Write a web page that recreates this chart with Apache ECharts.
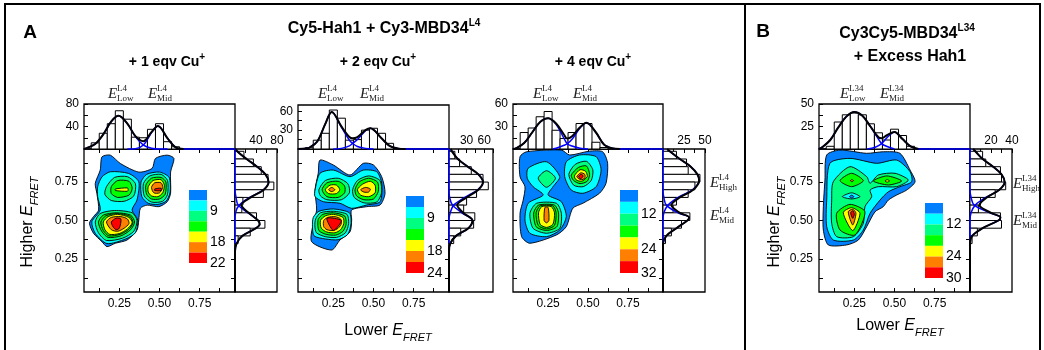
<!DOCTYPE html>
<html>
<head>
<meta charset="utf-8">
<script src="https://cdn.jsdelivr.net/npm/echarts@6/dist/echarts.min.js"></script>
<style>
html, body { margin: 0; padding: 0; background: #fff; }
#chart { width: 1044px; height: 350px; }
</style>
</head>
<body>
<div id="chart"></div>
<script>
// contour fill colours, outermost level first
const levelColors = ['#0080ff', '#00ffff', '#00ff80', '#00ff00', '#ffff00', '#ff8000', '#ff0000'];

// tick positions on the E_FRET axes
const eTicks = [0.125, 0.25, 0.375, 0.5, 0.625, 0.75, 0.875];
const eLabels = [0.25, 0.5, 0.75];

// histogram bins (centres)
const topBins = [0.1, 0.15, 0.2, 0.25, 0.3, 0.35, 0.4, 0.45, 0.5, 0.55, 0.6];
const rightBins = [0.925, 0.875, 0.825, 0.775, 0.725, 0.675, 0.625, 0.575, 0.525, 0.475, 0.425, 0.375];

// ---- panel A, +1 eqv ----
const a1TopCounts = [11, 28, 45, 68, 53, 21, 20, 35, 45, 13, 4];
const a1TopFit = [[0.03,0],[0.05,2],[0.1,9],[0.15,26],[0.2,49],[0.245,59],[0.3,45],[0.35,23],[0.4,14],[0.45,30],[0.49,41],[0.55,19],[0.6,3],[0.65,0]];
const a1TopLow = [[0.03,0],[0.05,2],[0.1,9],[0.15,26],[0.2,49],[0.245,59],[0.3,45],[0.35,22],[0.4,7],[0.45,1.5],[0.5,0],[0.55,0]];
const a1TopMid = [[0.3,0],[0.35,0.6],[0.4,7],[0.45,29],[0.49,41],[0.55,19],[0.6,3],[0.65,0],[0.97,0]];
const a1RightCounts = [17, 35, 50, 63, 74, 54, 15, 13, 41, 57, 29, 6];
const a1RightFit = [[2,0.965],[4,0.95],[22,0.9],[42,0.85],[58,0.8],[64,0.75],[55,0.7],[30,0.65],[12,0.6],[26,0.55],[44,0.5],[47,0.475],[40,0.45],[14,0.4],[3,0.35],[0,0.3],[0,0.035]];
const a1RightHigh = [[2,0.965],[4,0.95],[22,0.9],[42,0.85],[58,0.8],[64,0.75],[54,0.7],[28,0.65],[8,0.6],[1,0.55],[0,0.5],[0,0.35]];
const a1RightMid = [[0,0.965],[0,0.7],[2,0.65],[6,0.6],[25,0.55],[44,0.5],[47,0.475],[40,0.45],[14,0.4],[3,0.35],[0,0.3]];
const a1LegendLabels = ['9', '18', '22'];
const a1Contours = [
  [0, [[0.142,0.914],[0.194,0.925],[0.256,0.871],[0.371,0.815],[0.454,0.839],[0.475,0.904],[0.548,0.925],[0.59,0.904],[0.569,0.815],[0.569,0.677],[0.548,0.622],[0.496,0.59],[0.423,0.6],[0.381,0.579],[0.371,0.503],[0.36,0.438],[0.298,0.373],[0.225,0.352],[0.173,0.33],[0.142,0.362],[0.089,0.417],[0.064,0.482],[0.089,0.525],[0.121,0.568],[0.11,0.677],[0.1,0.741],[0.131,0.828]]],
  [1, [[0.194,0.817],[0.308,0.806],[0.371,0.752],[0.36,0.633],[0.329,0.568],[0.365,0.503],[0.35,0.42],[0.29,0.38],[0.173,0.35],[0.1,0.417],[0.079,0.492],[0.131,0.568],[0.115,0.655],[0.115,0.72],[0.142,0.784]]],
  [1, [[0.385,0.75],[0.42,0.8],[0.5,0.815],[0.56,0.78],[0.565,0.68],[0.54,0.625],[0.49,0.605],[0.43,0.612],[0.39,0.655]]],
  [2, [[0.17,0.72],[0.22,0.78],[0.3,0.785],[0.35,0.74],[0.34,0.66],[0.28,0.625],[0.2,0.63],[0.16,0.67]]],
  [3, [[0.2,0.72],[0.24,0.76],[0.31,0.755],[0.33,0.71],[0.31,0.665],[0.24,0.65],[0.2,0.675]]],
  [4, [[0.225,0.705],[0.3,0.712],[0.305,0.7],[0.3,0.69],[0.225,0.695]]],
  [2, [[0.4,0.74],[0.44,0.79],[0.51,0.8],[0.55,0.76],[0.55,0.67],[0.52,0.625],[0.45,0.62],[0.405,0.66]]],
  [3, [[0.415,0.73],[0.45,0.775],[0.51,0.78],[0.54,0.75],[0.535,0.67],[0.5,0.64],[0.45,0.64],[0.42,0.67]]],
  [4, [[0.43,0.72],[0.46,0.76],[0.51,0.765],[0.53,0.73],[0.52,0.68],[0.49,0.655],[0.45,0.66],[0.43,0.685]]],
  [5, [[0.45,0.715],[0.47,0.745],[0.51,0.745],[0.52,0.715],[0.5,0.68],[0.465,0.68]]],
  [6, [[0.47,0.705],[0.51,0.71],[0.51,0.695],[0.47,0.695]]],
  [2, [[0.1,0.49],[0.13,0.545],[0.22,0.565],[0.33,0.55],[0.36,0.5],[0.34,0.43],[0.27,0.385],[0.17,0.37],[0.12,0.42]]],
  [3, [[0.12,0.49],[0.15,0.535],[0.23,0.55],[0.32,0.535],[0.345,0.49],[0.32,0.44],[0.26,0.4],[0.18,0.39],[0.14,0.43]]],
  [3, [[0.135,0.49],[0.165,0.53],[0.235,0.545],[0.315,0.528],[0.335,0.487],[0.31,0.443],[0.255,0.41],[0.185,0.4],[0.15,0.435]]],
  [4, [[0.15,0.49],[0.18,0.525],[0.24,0.54],[0.31,0.52],[0.33,0.485],[0.3,0.445],[0.25,0.415],[0.19,0.41],[0.16,0.44]]],
  [5, [[0.17,0.49],[0.2,0.52],[0.26,0.525],[0.3,0.51],[0.31,0.48],[0.28,0.45],[0.24,0.43],[0.2,0.44]]],
  [6, [[0.2,0.49],[0.23,0.515],[0.26,0.51],[0.25,0.45],[0.23,0.44],[0.21,0.46]]]
];

// ---- panel A, +2 eqv ----
const a2TopCounts = [2, 14, 25, 62, 49, 14, 15, 30, 33, 25, 9];
const a2TopFit = [[0.03,0],[0.08,1],[0.1,2],[0.15,12],[0.2,40],[0.24,59],[0.3,36],[0.35,19],[0.37,17],[0.4,19],[0.45,30],[0.48,33],[0.55,17],[0.6,5],[0.65,1],[0.7,0]];
const a2TopLow = [[0.03,0],[0.08,1],[0.1,2],[0.15,12],[0.2,40],[0.24,59],[0.3,35],[0.35,14],[0.37,9],[0.4,4],[0.45,1],[0.5,0]];
const a2TopMid = [[0.25,0],[0.3,1],[0.35,5],[0.37,9],[0.4,15],[0.45,29],[0.48,33],[0.55,17],[0.6,5],[0.65,1],[0.7,0],[0.97,0]];
const a2RightCounts = [10, 18, 38, 58, 67, 47, 30, 25, 44, 42, 20, 8];
const a2RightFit = [[3,0.965],[5,0.95],[15,0.9],[32,0.85],[50,0.8],[58,0.75],[50,0.7],[30,0.65],[14,0.6],[24,0.55],[40,0.5],[33,0.45],[12,0.4],[2,0.35],[0,0.3],[0,0.035]];
const a2RightHigh = [[3,0.965],[5,0.95],[15,0.9],[32,0.85],[50,0.8],[58,0.75],[49,0.7],[27,0.65],[8,0.6],[2,0.55],[0,0.5],[0,0.35]];
const a2RightMid = [[0,0.965],[0,0.7],[1,0.65],[6,0.6],[22,0.55],[40,0.5],[33,0.45],[12,0.4],[2,0.35],[0,0.3]];
const a2LegendLabels = ['9', '18', '24'];
const a2Contours = [
  [0, [[0.167,0.893],[0.25,0.861],[0.354,0.796],[0.437,0.872],[0.5,0.861],[0.551,0.785],[0.572,0.677],[0.541,0.601],[0.458,0.59],[0.364,0.568],[0.364,0.503],[0.354,0.427],[0.291,0.373],[0.24,0.308],[0.115,0.362],[0.125,0.482],[0.146,0.568],[0.136,0.698],[0.156,0.807]]],
  [1, [[0.136,0.698],[0.167,0.807],[0.25,0.828],[0.354,0.785],[0.437,0.828],[0.52,0.817],[0.551,0.742],[0.541,0.622],[0.458,0.601],[0.364,0.579],[0.291,0.612],[0.188,0.622],[0.136,0.655]]],
  [1, [[0.125,0.52],[0.16,0.56],[0.25,0.575],[0.35,0.55],[0.36,0.48],[0.34,0.41],[0.28,0.375],[0.2,0.38],[0.13,0.4],[0.12,0.46]]],
  [2, [[0.16,0.7],[0.2,0.76],[0.28,0.775],[0.34,0.74],[0.35,0.68],[0.3,0.635],[0.21,0.635],[0.17,0.66]]],
  [3, [[0.18,0.7],[0.21,0.745],[0.28,0.755],[0.32,0.725],[0.32,0.68],[0.28,0.65],[0.21,0.655]]],
  [4, [[0.2,0.7],[0.23,0.73],[0.27,0.73],[0.29,0.7],[0.27,0.675],[0.22,0.675]]],
  [5, [[0.22,0.7],[0.24,0.715],[0.26,0.7],[0.24,0.688]]],
  [2, [[0.37,0.7],[0.4,0.76],[0.47,0.79],[0.54,0.76],[0.55,0.68],[0.52,0.62],[0.44,0.615],[0.38,0.65]]],
  [3, [[0.385,0.7],[0.41,0.75],[0.47,0.775],[0.525,0.75],[0.53,0.69],[0.5,0.64],[0.44,0.635],[0.395,0.66]]],
  [4, [[0.4,0.7],[0.43,0.735],[0.48,0.755],[0.51,0.73],[0.51,0.68],[0.47,0.655],[0.42,0.665]]],
  [5, [[0.42,0.7],[0.45,0.715],[0.48,0.705],[0.47,0.685],[0.44,0.685]]],
  [2, [[0.14,0.51],[0.17,0.55],[0.25,0.56],[0.335,0.54],[0.345,0.48],[0.325,0.42],[0.27,0.39],[0.2,0.395],[0.145,0.42],[0.135,0.465]]],
  [3, [[0.155,0.505],[0.185,0.54],[0.25,0.55],[0.32,0.53],[0.33,0.48],[0.31,0.43],[0.265,0.405],[0.205,0.41],[0.16,0.435]]],
  [4, [[0.17,0.5],[0.2,0.53],[0.25,0.54],[0.31,0.52],[0.315,0.48],[0.295,0.44],[0.26,0.42],[0.21,0.425],[0.175,0.45]]],
  [5, [[0.19,0.5],[0.215,0.52],[0.26,0.525],[0.295,0.51],[0.3,0.48],[0.28,0.45],[0.25,0.435],[0.21,0.44],[0.19,0.46]]],
  [6, [[0.21,0.515],[0.3,0.5],[0.25,0.435]]]
];

// ---- panel A, +4 eqv ----
const a3TopCounts = [22, 28, 43, 50, 25, 14, 22, 34, 34, 9, 2];
const a3TopFit = [[0.03,0],[0.05,1],[0.1,8],[0.15,22],[0.2,36],[0.25,41],[0.3,34],[0.35,19],[0.37,14],[0.4,17],[0.45,29],[0.49,35],[0.55,22],[0.6,6],[0.65,1],[0.7,0]];
const a3TopLow = [[0.03,0],[0.05,1],[0.1,8],[0.15,22],[0.2,36],[0.25,41],[0.3,33],[0.35,14],[0.37,7],[0.4,4],[0.45,1],[0.5,0]];
const a3TopMid = [[0.28,0],[0.3,1],[0.35,5],[0.37,7],[0.4,13],[0.45,28],[0.49,35],[0.55,22],[0.6,6],[0.65,1],[0.7,0],[0.97,0]];
const a3RightCounts = [16, 28, 30, 44, 38, 30, 16, 12, 32, 22, 10, 3];
const a3RightFit = [[5,0.965],[8,0.95],[20,0.9],[33,0.85],[41,0.8],[43,0.76],[36,0.7],[20,0.65],[10,0.6],[20,0.55],[31,0.52],[29,0.5],[16,0.45],[4,0.4],[0,0.35],[0,0.035]];
const a3RightHigh = [[5,0.965],[8,0.95],[20,0.9],[33,0.85],[41,0.8],[43,0.76],[35,0.7],[18,0.65],[6,0.6],[1,0.55],[0,0.5],[0,0.35]];
const a3RightMid = [[0,0.965],[0,0.7],[1,0.65],[4,0.6],[18,0.55],[31,0.52],[29,0.5],[16,0.45],[4,0.4],[0,0.35]];
const a3LegendLabels = ['12', '24', '32'];
const a3Contours = [
  [0, [[0.074,0.915],[0.115,0.947],[0.333,0.958],[0.385,0.926],[0.509,0.951],[0.592,0.947],[0.623,0.872],[0.613,0.742],[0.572,0.677],[0.468,0.612],[0.405,0.58],[0.364,0.46],[0.302,0.406],[0.136,0.352],[0.084,0.395],[0.074,0.547],[0.094,0.633],[0.105,0.72],[0.074,0.785]]],
  [1, [[0.125,0.84],[0.24,0.882],[0.323,0.785],[0.281,0.72],[0.25,0.666],[0.333,0.622],[0.364,0.525],[0.323,0.438],[0.24,0.395],[0.136,0.417],[0.105,0.503],[0.125,0.612],[0.219,0.666],[0.156,0.72],[0.119,0.775]]],
  [1, [[0.364,0.882],[0.447,0.926],[0.551,0.915],[0.582,0.829],[0.551,0.72],[0.468,0.677],[0.395,0.698],[0.354,0.785]]],
  [2, [[0.188,0.775],[0.24,0.824],[0.296,0.775],[0.24,0.716]]],
  [2, [[0.136,0.547],[0.178,0.612],[0.302,0.612],[0.333,0.547],[0.323,0.449],[0.24,0.417],[0.156,0.449]]],
  [3, [[0.16,0.55],[0.19,0.6],[0.29,0.6],[0.315,0.55],[0.305,0.46],[0.24,0.435],[0.175,0.46]]],
  [3, [[0.175,0.55],[0.2,0.595],[0.28,0.595],[0.3,0.55],[0.29,0.468],[0.24,0.445],[0.188,0.468]]],
  [4, [[0.19,0.55],[0.21,0.59],[0.27,0.59],[0.29,0.55],[0.28,0.475],[0.24,0.455],[0.2,0.475]]],
  [5, [[0.23,0.585],[0.25,0.585],[0.255,0.5],[0.24,0.485],[0.225,0.5]]],
  [2, [[0.38,0.8],[0.42,0.865],[0.49,0.885],[0.53,0.83],[0.52,0.76],[0.47,0.72],[0.41,0.73]]],
  [3, [[0.395,0.795],[0.44,0.845],[0.49,0.855],[0.51,0.8],[0.495,0.755],[0.45,0.74],[0.41,0.76]]],
  [4, [[0.415,0.79],[0.45,0.83],[0.485,0.82],[0.495,0.785],[0.46,0.755],[0.425,0.765]]],
  [5, [[0.43,0.785],[0.455,0.81],[0.48,0.8],[0.48,0.775],[0.455,0.765]]],
  [6, [[0.44,0.785],[0.455,0.8],[0.47,0.79],[0.455,0.772]]]
];

// ---- panel B ----
const bTopCounts = [3, 30, 38, 40, 38, 28, 18, 10, 22, 15, 3];
const bTopFit = [[0.03,0],[0.05,2],[0.1,10],[0.15,24],[0.2,36],[0.25,41],[0.3,37],[0.35,25],[0.4,13],[0.42,12],[0.45,15],[0.5,19],[0.55,11],[0.6,3],[0.65,0]];
const bTopLow = [[0.03,0],[0.05,2],[0.1,10],[0.15,24],[0.2,36],[0.25,41],[0.3,37],[0.35,25],[0.4,11],[0.42,6],[0.45,3],[0.5,0]];
const bTopMid = [[0.33,0],[0.38,2],[0.42,6],[0.45,12],[0.5,19],[0.55,11],[0.6,3],[0.65,0],[0.97,0]];
const bRightCounts = [12, 15, 29, 30, 34, 24, 10, 8, 29, 30, 7, 2];
const bRightFit = [[3,0.965],[5,0.95],[12,0.9],[22,0.85],[30,0.8],[33,0.75],[28,0.7],[16,0.65],[9,0.6],[20,0.55],[29,0.52],[27,0.5],[12,0.45],[2,0.4],[0,0.35],[0,0.035]];
const bRightHigh = [[3,0.965],[5,0.95],[12,0.9],[22,0.85],[30,0.8],[33,0.75],[28,0.7],[15,0.65],[5,0.6],[1,0.55],[0,0.5],[0,0.35]];
const bRightMid = [[0,0.965],[0,0.7],[1,0.65],[4,0.6],[19,0.55],[29,0.52],[27,0.5],[12,0.45],[2,0.4],[0,0.35]];
const bLegendLabels = ['12', '24', '30'];
const bContours = [
  [0, [[0.078,0.926],[0.161,0.958],[0.327,0.937],[0.43,0.947],[0.534,0.937],[0.597,0.828],[0.628,0.752],[0.576,0.698],[0.514,0.666],[0.462,0.633],[0.43,0.59],[0.379,0.557],[0.327,0.46],[0.275,0.373],[0.202,0.341],[0.088,0.341],[0.057,0.438],[0.057,0.59],[0.067,0.763]]],
  [1, [[0.098,0.872],[0.223,0.904],[0.389,0.872],[0.514,0.893],[0.597,0.817],[0.607,0.752],[0.534,0.72],[0.462,0.687],[0.41,0.633],[0.348,0.547],[0.306,0.438],[0.244,0.373],[0.119,0.373],[0.078,0.46],[0.078,0.633]]],
  [2, [[0.119,0.752],[0.223,0.85],[0.327,0.785],[0.348,0.742],[0.399,0.796],[0.503,0.807],[0.586,0.763],[0.514,0.72],[0.399,0.72],[0.348,0.698],[0.358,0.655],[0.316,0.59],[0.306,0.482],[0.244,0.395],[0.14,0.395],[0.109,0.482],[0.109,0.633]]],
  [1, [[0.175,0.655],[0.233,0.68],[0.285,0.655],[0.233,0.64]]],
  [0, [[0.22,0.655],[0.233,0.665],[0.247,0.655],[0.233,0.645]]],
  [3, [[0.161,0.759],[0.233,0.807],[0.306,0.759],[0.233,0.72]]],
  [5, [[0.225,0.759],[0.235,0.766],[0.245,0.759],[0.235,0.752]]],
  [3, [[0.368,0.757],[0.452,0.79],[0.545,0.757],[0.462,0.731]]],
  [4, [[0.44,0.757],[0.455,0.765],[0.47,0.757],[0.455,0.75]]],
  [3, [[0.14,0.547],[0.223,0.605],[0.316,0.557],[0.254,0.406],[0.161,0.438]]],
  [4, [[0.181,0.551],[0.233,0.583],[0.285,0.547],[0.24,0.434]]],
  [5, [[0.212,0.557],[0.24,0.573],[0.26,0.547],[0.24,0.471]]],
  [6, [[0.227,0.551],[0.24,0.564],[0.25,0.542],[0.24,0.514]]]
];

// legend boundaries that carry a label (level index)
const legendBounds = [2, 5, 7];

const SANS = '"Liberation Sans", Arial, sans-serif';
const SERIF = '"Liberation Serif", "Times New Roman", serif';

const panels = [
  { main: [84, 149, 151, 143], top: [84, 104, 151, 45], right: [235, 149, 42, 143], leg: [189, 190, 18, 73],
    topMax: 80, topTicks: [20, 40, 60, 80], topLabels: [40, 80], rightMax: 80, rightTicks: [20, 40, 60, 80], rightLabels: [40, 80], showY: true,
    contours: a1Contours, topCounts: a1TopCounts, topFit: a1TopFit, topLow: a1TopLow, topMid: a1TopMid,
    rightCounts: a1RightCounts, rightFit: a1RightFit, rightHigh: a1RightHigh, rightMid: a1RightMid, legend: a1LegendLabels },
  { main: [298, 149, 151, 143], top: [298, 105, 151, 44], right: [449, 149, 44, 143], leg: [406, 196, 18, 77],
    topMax: 70, topTicks: [15, 30, 45, 60], topLabels: [30, 60], rightMax: 75, rightTicks: [15, 30, 45, 60, 75], rightLabels: [30, 60], showY: false,
    contours: a2Contours, topCounts: a2TopCounts, topFit: a2TopFit, topLow: a2TopLow, topMid: a2TopMid,
    rightCounts: a2RightCounts, rightFit: a2RightFit, rightHigh: a2RightHigh, rightMid: a2RightMid, legend: a2LegendLabels },
  { main: [513, 149, 150, 143], top: [513, 104, 150, 45], right: [663, 149, 42, 143], leg: [620, 190, 18, 83],
    topMax: 60, topTicks: [15, 30, 45, 60], topLabels: [30, 60], rightMax: 50, rightTicks: [12.5, 25, 37.5, 50], rightLabels: [25, 50], showY: false,
    contours: a3Contours, topCounts: a3TopCounts, topFit: a3TopFit, topLow: a3TopLow, topMid: a3TopMid,
    rightCounts: a3RightCounts, rightFit: a3RightFit, rightHigh: a3RightHigh, rightMid: a3RightMid, legend: a3LegendLabels },
  { main: [819, 149, 151, 143], top: [819, 104, 151, 45], right: [970, 149, 42, 143], leg: [925, 203, 18, 75],
    topMax: 50, topTicks: [12.5, 25, 37.5, 50], topLabels: [25, 50], rightMax: 40, rightTicks: [10, 20, 30, 40], rightLabels: [20, 40], showY: true,
    contours: bContours, topCounts: bTopCounts, topFit: bTopFit, topLow: bTopLow, topMid: bTopMid,
    rightCounts: bRightCounts, rightFit: bRightFit, rightHigh: bRightHigh, rightMid: bRightMid, legend: bLegendLabels }
];

const grids = [], xAxes = [], yAxes = [], series = [];
const labelStyle = { color: '#000', fontFamily: SANS, fontSize: 12 };
const tickStyle = { color: '#000', width: 1 };

function addGrid(box, border) {
  grids.push({ left: box[0], top: box[1], width: box[2], height: box[3], show: border, borderColor: '#000', borderWidth: 1.3, backgroundColor: 'transparent' });
  return grids.length - 1;
}
function valAxis(gi, min, max, pos, ticks, labels, extra) {
  return Object.assign({
    gridIndex: gi, type: 'value', min: min, max: max, position: pos,
    axisLine: { show: false }, splitLine: { show: false },
    axisTick: { show: !!ticks, inside: true, length: 4, customValues: ticks || [], lineStyle: tickStyle },
    axisLabel: labels ? Object.assign({ customValues: labels, margin: 5 }, labelStyle) : { show: false }
  }, extra || {});
}
function lineSeries(gi, data, color, width) {
  return { type: 'line', xAxisIndex: gi, yAxisIndex: gi, data: data, smooth: 0.35, showSymbol: false, silent: true,
    clip: false, lineStyle: { color: color, width: width }, animation: false };
}

panels.forEach(p => {
  // main contour plot
  const gm = addGrid(p.main, true);
  xAxes.push(valAxis(gm, 0.03, 0.97, 'bottom', eTicks, eLabels, { axisLabel: Object.assign({ customValues: eLabels, margin: 6, formatter: v => v.toFixed(2) }, labelStyle) }));
  yAxes.push(valAxis(gm, 0.035, 0.965, 'left', eTicks, p.showY ? eLabels : null,
    p.showY ? { axisLabel: Object.assign({ customValues: eLabels, margin: 6, formatter: v => v.toFixed(2) }, labelStyle) } : {}));
  const polys = p.contours;
  series.push({
    type: 'custom', xAxisIndex: gm, yAxisIndex: gm, silent: true, animation: false,
    data: polys.map(c => c[1][0]),
    renderItem: (params, api) => {
      const c = polys[params.dataIndex];
      return {
        type: 'polygon',
        shape: { points: c[1].map(pt => api.coord(pt)), smooth: 0.25 },
        style: { fill: levelColors[c[0]], stroke: '#000', lineWidth: 0.9 }
      };
    }
  });

  // top histogram (lower E_FRET)
  const gt = addGrid(p.top, true);
  xAxes.push(valAxis(gt, 0.03, 0.97, 'top', eTicks, null));
  yAxes.push(valAxis(gt, 0, p.topMax, 'left', p.topTicks, p.topLabels));
  series.push({
    type: 'custom', xAxisIndex: gt, yAxisIndex: gt, silent: true, animation: false,
    data: topBins.map((b, i) => [b, p.topCounts[i]]),
    renderItem: (params, api) => {
      const a = api.coord([api.value(0) - 0.025, api.value(1)]);
      const b = api.coord([api.value(0) + 0.025, 0]);
      return { type: 'rect', shape: { x: a[0], y: a[1], width: b[0] - a[0], height: b[1] - a[1] },
        style: { fill: '#fff', stroke: '#000', lineWidth: 1 } };
    }
  });
  series.push(lineSeries(gt, p.topLow, '#0000ff', 1.5));
  series.push(lineSeries(gt, p.topMid, '#0000ff', 1.5));
  series.push(lineSeries(gt, p.topFit, '#000', 2));

  // right histogram (higher E_FRET)
  const gr = addGrid(p.right, true);
  xAxes.push(valAxis(gr, 0, p.rightMax, 'top', p.rightTicks, p.rightLabels, {
    axisLabel: Object.assign({ customValues: p.rightLabels, margin: 2 }, labelStyle) }));
  yAxes.push(valAxis(gr, 0.035, 0.965, 'right', eTicks, null));
  series.push({
    type: 'custom', xAxisIndex: gr, yAxisIndex: gr, silent: true, animation: false,
    data: rightBins.map((b, i) => [p.rightCounts[i], b]),
    renderItem: (params, api) => {
      const a = api.coord([0, api.value(1) + 0.025]);
      const b = api.coord([api.value(0), api.value(1) - 0.025]);
      return { type: 'rect', shape: { x: a[0], y: a[1], width: b[0] - a[0], height: b[1] - a[1] },
        style: { fill: '#fff', stroke: '#000', lineWidth: 1 } };
    }
  });
  series.push(lineSeries(gr, p.rightHigh, '#0000ff', 1.5));
  series.push(lineSeries(gr, p.rightMid, '#0000ff', 1.5));
  series.push(lineSeries(gr, p.rightFit, '#000', 2));

  // colour scale
  const gl = addGrid(p.leg, false);
  const labels = p.legend;
  xAxes.push({ gridIndex: gl, type: 'value', min: 0, max: 1, show: false });
  yAxes.push({ gridIndex: gl, type: 'value', min: 0, max: 7, inverse: true, position: 'right',
    axisLine: { show: false }, axisTick: { show: false }, splitLine: { show: false },
    axisLabel: Object.assign({ customValues: legendBounds, margin: 3, formatter: v => labels[legendBounds.indexOf(v)] }, labelStyle, { fontSize: 14 }) });
  series.push({
    type: 'custom', xAxisIndex: gl, yAxisIndex: gl, silent: true, animation: false,
    data: levelColors.map((c, i) => [0, i]),
    renderItem: (params, api) => {
      const a = api.coord([0, api.value(1)]);
      const b = api.coord([1, api.value(1) + 1]);
      return { type: 'rect', shape: { x: a[0], y: a[1], width: b[0] - a[0], height: b[1] - a[1] },
        style: { fill: levelColors[params.dataIndex] } };
    }
  });
});

// ---- texts and frame ----
const graphics = [];
function text(x, y, str, size, opts) {
  graphics.push(Object.assign({
    type: 'text', x: x, y: y, silent: true,
    style: Object.assign({ text: str, fontFamily: SANS, fontSize: size, fontWeight: 'bold', fill: '#000', align: 'center', verticalAlign: 'middle' }, (opts && opts.style) || {})
  }, (opts && opts.el) || {}));
}
function eLabel(x, y, sup, sub) {
  graphics.push({ type: 'text', x: x, y: y, silent: true,
    style: { text: 'E', fontFamily: SERIF, fontStyle: 'italic', fontSize: 15, fill: '#222', align: 'left', verticalAlign: 'middle' } });
  graphics.push({ type: 'text', x: x + 9, y: y - 5, silent: true,
    style: { text: sup, fontFamily: SERIF, fontSize: 9, fill: '#222', align: 'left', verticalAlign: 'middle' } });
  graphics.push({ type: 'text', x: x + 9, y: y + 5, silent: true,
    style: { text: sub, fontFamily: SERIF, fontSize: 9, fill: '#222', align: 'left', verticalAlign: 'middle' } });
}
const supRich = { sup: { fontFamily: SANS, fontSize: 10, fontWeight: 'bold', verticalAlign: 'top', lineHeight: 11 } };
const fretRich = {
  e: { fontFamily: SANS, fontSize: 16, fontStyle: 'italic', lineHeight: 24 },
  s: { fontFamily: SANS, fontSize: 11, fontStyle: 'italic', verticalAlign: 'bottom', lineHeight: 12 }
};

text(30, 33, 'A', 19);
text(763, 32, 'B', 19);
text(384, 29, 'Cy5-Hah1 + Cy3-MBD34{sup|L4}', 16, { style: { rich: supRich, lineHeight: 22 } });
text(167, 62, '+ 1 eqv Cu{sup|+}', 14, { style: { rich: supRich, lineHeight: 20 } });
text(378, 62, '+ 2 eqv Cu{sup|+}', 14, { style: { rich: supRich, lineHeight: 20 } });
text(593, 62, '+ 4 eqv Cu{sup|+}', 14, { style: { rich: supRich, lineHeight: 20 } });
text(907, 34, 'Cy3Cy5-MBD34{sup|L34}', 16, { style: { rich: supRich, lineHeight: 22 } });
text(910, 57, '+ Excess Hah1', 16);

const fretStyle = { rich: fretRich, fontWeight: 'normal', lineHeight: 24 };
text(28, 222, 'Higher {e|E}{s|FRET}', 16, { style: fretStyle, el: { rotation: Math.PI / 2 } });
text(775, 222, 'Higher {e|E}{s|FRET}', 16, { style: fretStyle, el: { rotation: Math.PI / 2 } });
text(388, 331, 'Lower {e|E}{s|FRET}', 16, { style: fretStyle });
text(900, 326, 'Lower {e|E}{s|FRET}', 16, { style: fretStyle });

eLabel(108, 94, 'L4', 'Low'); eLabel(148, 94, 'L4', 'Mid');
eLabel(318, 94, 'L4', 'Low'); eLabel(360, 94, 'L4', 'Mid');
eLabel(533, 94, 'L4', 'Low'); eLabel(573, 94, 'L4', 'Mid');
eLabel(840, 94, 'L34', 'Low'); eLabel(880, 94, 'L34', 'Mid');
eLabel(710, 183, 'L4', 'High'); eLabel(710, 216, 'L4', 'Mid');
eLabel(1013, 184, 'L34', 'High'); eLabel(1013, 221, 'L34', 'Mid');

graphics.push({ type: 'polyline', silent: true, shape: { points: [[5, 352], [5, 4], [1040, 4], [1040, 352]] }, style: { stroke: '#000', lineWidth: 2, fill: null } });
graphics.push({ type: 'line', silent: true, shape: { x1: 745, y1: 4, x2: 745, y2: 352 }, style: { stroke: '#000', lineWidth: 2 } });

const chart = echarts.init(document.getElementById('chart'));
chart.setOption({
  backgroundColor: '#fff',
  animation: false,
  grid: grids,
  xAxis: xAxes,
  yAxis: yAxes,
  series: series,
  graphic: { elements: graphics }
});
</script>
</body>
</html>
